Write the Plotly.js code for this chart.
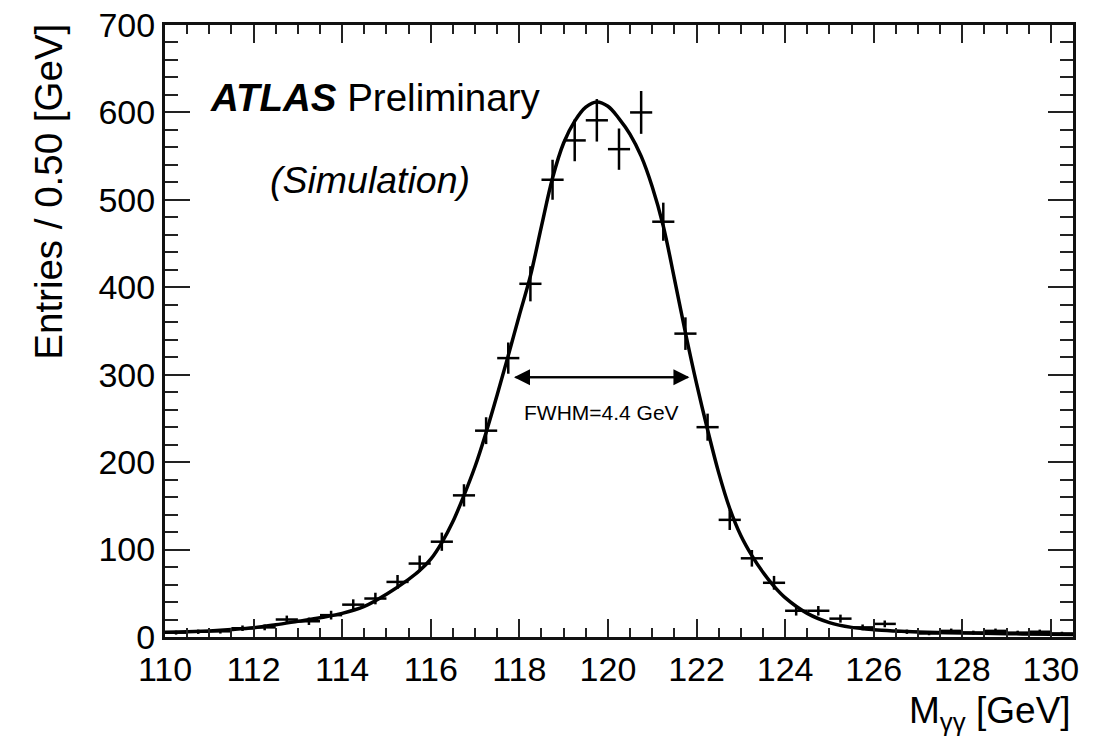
<!DOCTYPE html>
<html>
<head>
<meta charset="utf-8">
<script src="https://cdn.plot.ly/plotly-3.0.1.min.js"></script>
<style>
  html, body { margin: 0; padding: 0; background: #fff; }
  #chart { width: 1099px; height: 750px; }
</style>
</head>
<body>
<div id="chart"></div>
<script>
// Histogram bin centres (0.5 GeV bins) and entries
const binCenters = [110.25,110.75,111.25,111.75,112.25,112.75,113.25,113.75,114.25,114.75,
  115.25,115.75,116.25,116.75,117.25,117.75,118.25,118.75,119.25,119.75,
  120.25,120.75,121.25,121.75,122.25,122.75,123.25,123.75,124.25,124.75,
  125.25,125.75,126.25,126.75,127.25,127.75,128.25,128.75,129.25,129.75,130.25];
const entries = [5,6,6.5,10,11,20,18,25,37,44,
  63,84,109,162,236,319,404,523,568,591,
  558,600,475,347,240,134,90,62,30,30,
  21,11,15,6,4,7,5,7,5,6,4];

// Fitted signal curve
const fitX = [110,110.5,111,111.5,112,112.5,113,113.5,114,114.5,115,115.5,115.75,116,116.25,116.5,116.75,
  117,117.25,117.5,117.75,118,118.25,118.5,118.75,119,119.25,119.5,119.75,120,120.25,120.5,120.75,
  121,121.25,121.5,121.75,122,122.25,122.5,122.75,123,123.25,123.5,123.75,124,124.5,125,125.5,
  126,126.5,127,128,129,130,130.5];
const fitY = [5.5,6,7,8.5,10.5,14,18,22,27,35,49,66,76,89,108,132,162,
  195,234,277,322,368,413,470,525,565,590,606,612,607,593,575,550,
  515,470,410,348,290,237,188,147,116,93,74,58,45,27,16.5,11,
  8.3,6.8,5.8,4.6,3.8,3.2,3];

// FWHM marker (from the figure)
const fwhmLow = 117.88, fwhmHigh = 121.84, halfMax = 297, fwhmMid = 119.86;
const fwhmLabel = 'FWHM=4.4 GeV';

const xRange = [110, 130.5];
const yRange = [0, 700];
const FONT = 'Liberation Sans, Arial, Helvetica, sans-serif';

const traces = [
  {
    x: binCenters, y: entries, type: 'scatter', mode: 'markers',
    marker: {size: 2, color: '#000'},
    error_y: {type: 'sqrt', width: 0, thickness: 2.5, color: '#000'},
    error_x: {type: 'constant', value: 0.25, width: 0, thickness: 2.5, color: '#000'},
    hoverinfo: 'x+y', showlegend: false
  },
  {
    x: fitX, y: fitY, type: 'scatter', mode: 'lines',
    line: {color: '#000', width: 3.5, shape: 'spline', smoothing: 1},
    showlegend: false
  }
];

const layout = {
  width: 1099, height: 750,
  margin: {l: 165, r: 26, t: 25, b: 113, pad: 0},
  paper_bgcolor: '#fff', plot_bgcolor: '#fff',
  font: {family: FONT, color: '#000', size: 34},
  showlegend: false,
  xaxis: {
    range: xRange, tickmode: 'linear', tick0: 110, dtick: 2,
    ticks: 'inside', ticklen: 18, tickwidth: 2, tickcolor: '#222',
    minor: {dtick: 0.5, ticks: 'inside', ticklen: 9, tickwidth: 2, tickcolor: '#222'},
    showline: true, linewidth: 3, linecolor: '#111', mirror: 'allticks',
    showgrid: false, zeroline: false,
    tickfont: {family: FONT, size: 34, color: '#000'}
  },
  yaxis: {
    range: yRange, tickmode: 'linear', tick0: 0, dtick: 100,
    ticks: 'inside', ticklen: 25, tickwidth: 2, tickcolor: '#222',
    minor: {dtick: 20, ticks: 'inside', ticklen: 13, tickwidth: 2, tickcolor: '#222'},
    showline: true, linewidth: 3, linecolor: '#111', mirror: 'allticks',
    showgrid: false, zeroline: false,
    tickfont: {family: FONT, size: 34, color: '#000'}
  },
  annotations: [
    {xref: 'paper', yref: 'paper', x: 0.047, y: 0.882, xanchor: 'left', yanchor: 'middle',
     text: '<b><i>ATLAS</i></b> Preliminary', showarrow: false,
     font: {family: FONT, size: 38.5, color: '#000'}},
    {xref: 'paper', yref: 'paper', x: 0.113, y: 0.747, xanchor: 'left', yanchor: 'middle',
     text: '<i>(Simulation)</i>', showarrow: false,
     font: {family: FONT, size: 37.5, color: '#000'}},
    {xref: 'x', yref: 'y', x: fwhmLow, y: halfMax, axref: 'x', ayref: 'y', ax: fwhmHigh, ay: halfMax,
     text: '', showarrow: true, arrowhead: 2, arrowsize: 1.6, arrowwidth: 2, arrowcolor: '#000', standoff: 0},
    {xref: 'x', yref: 'y', x: fwhmHigh, y: halfMax, axref: 'x', ayref: 'y', ax: fwhmLow, ay: halfMax,
     text: '', showarrow: true, arrowhead: 2, arrowsize: 1.6, arrowwidth: 2, arrowcolor: '#000', standoff: 0},
    {xref: 'x', yref: 'paper', x: fwhmMid, y: 0.367, xanchor: 'center', yanchor: 'middle',
     text: fwhmLabel, showarrow: false, font: {family: FONT, size: 21, color: '#000'}},
    {xref: 'paper', yref: 'paper', x: 1.0, y: -0.124, xanchor: 'right', yanchor: 'middle',
     text: 'M<sub>γγ</sub> [GeV]', showarrow: false, font: {family: FONT, size: 37, color: '#000'}},
    {xref: 'paper', yref: 'paper', x: -0.128, y: 1.005, xanchor: 'center', yanchor: 'top',
     text: 'Entries / 0.50 [GeV]', textangle: -90, showarrow: false,
     font: {family: FONT, size: 38.5, color: '#000'}}
  ]
};

Plotly.newPlot('chart', traces, layout, {staticPlot: true, displayModeBar: false});
</script>
</body>
</html>
